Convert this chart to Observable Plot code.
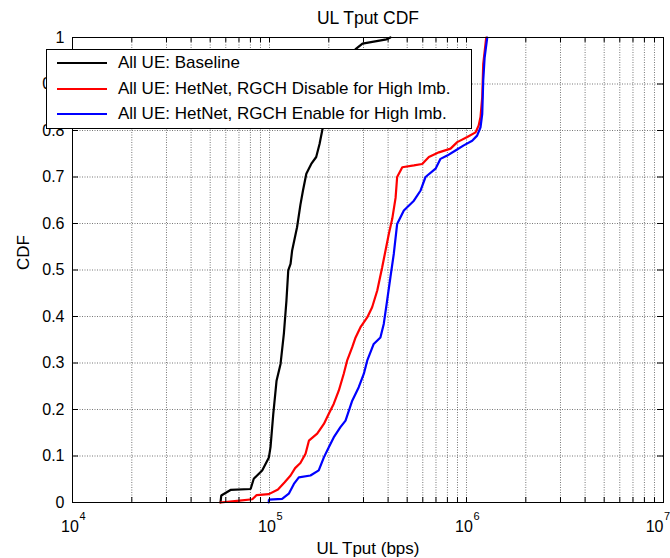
<!DOCTYPE html>
<html>
<head>
<meta charset="utf-8">
<script src="https://cdn.jsdelivr.net/npm/d3@7"></script>
<script src="https://cdn.jsdelivr.net/npm/@observablehq/plot@0.6"></script>
<style>
  body { margin: 0; background: #fff; font-family: "Liberation Sans", Arial, sans-serif; }
  #wrap { position: relative; width: 670px; height: 558px; }
  #legend { position: absolute; left: 46px; top: 49px; width: 424px; height: 78px;
            border: 1px solid #000; background: #fff; font-size: 17px; color: #000; }
  #legend .ln { position: absolute; left: 10px; width: 50px; height: 2px; }
  #legend .tx { position: absolute; left: 71px; height: 20px; line-height: 20px; white-space: nowrap; }
</style>
</head>
<body>
<div id="wrap"></div>
<script>
// ---- data ----
const seriesNames = [
  "All UE: Baseline",
  "All UE: HetNet, RGCH Disable for High Imb.",
  "All UE: HetNet, RGCH Enable for High Imb."
];
const seriesColors = ["#000000", "#ff0000", "#0000ff"];

const baselineX = [56400, 56900, 63400, 80200, 83200, 91800, 99300, 101200, 104500, 108600, 113800, 118300, 121900, 124500, 127900, 130300, 138000, 143500, 147900, 153800, 162900, 172600, 179500, 186600, 195000, 213800, 245500, 273500, 296500, 392600, 411000];
const baselineY = [0, 0.015, 0.027, 0.029, 0.051, 0.069, 0.097, 0.119, 0.19, 0.262, 0.298, 0.363, 0.434, 0.499, 0.513, 0.542, 0.592, 0.64, 0.671, 0.707, 0.728, 0.743, 0.771, 0.807, 0.85, 0.9, 0.95, 0.975, 0.987, 0.996, 1.0];

const disableX = [56200, 70500, 81800, 86100, 99300, 110400, 119100, 127900, 134900, 143500, 152400, 158500, 174600, 188800, 200000, 211800, 224900, 238200, 247700, 263000, 273500, 289700, 313300, 331900, 352400, 373300, 388100, 403600, 419800, 436500, 444600, 472100, 540800, 595700, 644200, 724400, 829900, 897500, 1009000, 1112000, 1153000, 1178000, 1202000, 1216000, 1259000];
const disableY = [0, 0.004, 0.007, 0.016, 0.018, 0.028, 0.043, 0.058, 0.074, 0.085, 0.105, 0.133, 0.148, 0.169, 0.191, 0.212, 0.241, 0.277, 0.305, 0.334, 0.355, 0.377, 0.398, 0.42, 0.456, 0.506, 0.542, 0.578, 0.61, 0.655, 0.70, 0.721, 0.725, 0.728, 0.743, 0.753, 0.761, 0.775, 0.786, 0.796, 0.811, 0.829, 0.872, 0.943, 1.0];

const enableX = [99100, 99300, 115900, 125300, 133000, 140900, 161400, 177800, 188800, 200000, 211800, 229100, 243200, 263000, 283800, 301300, 313300, 338100, 365600, 380200, 395400, 411100, 427600, 444600, 480800, 540800, 584800, 619400, 696600, 737900, 798000, 879000, 968300, 1069000, 1132000, 1178000, 1202000, 1216000, 1236000, 1274000];
const enableY = [0, 0.006, 0.008, 0.019, 0.04, 0.054, 0.058, 0.069, 0.097, 0.119, 0.14, 0.162, 0.176, 0.219, 0.248, 0.277, 0.305, 0.341, 0.355, 0.384, 0.434, 0.485, 0.535, 0.599, 0.628, 0.649, 0.671, 0.70, 0.718, 0.739, 0.746, 0.757, 0.768, 0.778, 0.789, 0.807, 0.836, 0.907, 0.957, 1.0];

const xMajorTicks = [1e4, 1e5, 1e6];
const xMajorLabels = ["4", "5", "6"];
const xLastTick = [1e7];
const xLastLabel = ["7"];
const xGridTicks = [1e4,2e4,3e4,4e4,5e4,6e4,7e4,8e4,9e4,
                    1e5,2e5,3e5,4e5,5e5,6e5,7e5,8e5,9e5,
                    1e6,2e6,3e6,4e6,5e6,6e6,7e6,8e6,9e6,1e7];
const yTicks = [0, 0.1, 0.2, 0.3, 0.4, 0.5, 0.6, 0.7, 0.8, 0.9, 1];
const titleText = "UL Tput CDF";
const xLabelText = "UL Tput (bps)";
const yLabelText = "CDF";

// ---- build table ----
const seriesX = [baselineX, disableX, enableX];
const seriesY = [baselineY, disableY, enableY];
const rows = [];
seriesNames.forEach((name, i) => {
  seriesX[i].forEach((x, j) => rows.push({series: name, x, y: seriesY[i][j]}));
});

const W = 670, H = 558, mt = 37, mb = 56, ml = 72, mr = 7;
const innerW = W - ml - mr, innerH = H - mt - mb;
const gridStyle = {stroke: "#555", strokeDasharray: "1,1.5", strokeWidth: 1, strokeOpacity: 0.8};

const chart = Plot.plot({
  width: W, height: H,
  marginTop: mt, marginBottom: mb, marginLeft: ml, marginRight: mr,
  style: {fontFamily: "'Liberation Sans', Arial, sans-serif", background: "#fff", color: "#000", overflow: "visible"},
  x: {type: "log", domain: [1e4, 1e7], axis: null},
  y: {domain: [0, 1]},
  color: {domain: seriesNames, range: seriesColors},
  marks: [
    Plot.ruleX(xGridTicks, {x: d => d, ...gridStyle}),
    Plot.ruleY(yTicks, {y: d => d, ...gridStyle}),
    Plot.line(rows, {x: "x", y: "y", z: "series", stroke: "series", strokeWidth: 2.2, strokeLinejoin: "miter"}),
    // inward ticks
    Plot.ruleX(xGridTicks, {x: d => d, insetTop: innerH - 5, stroke: "#000"}),
    Plot.ruleX(xGridTicks, {x: d => d, insetBottom: innerH - 5, stroke: "#000"}),
    Plot.ruleY(yTicks, {y: d => d, insetRight: innerW - 6, stroke: "#000"}),
    Plot.ruleY(yTicks, {y: d => d, insetLeft: innerW - 6, stroke: "#000"}),
    Plot.frame({stroke: "#000", strokeWidth: 1}),
    Plot.axisY(yTicks, {tickSize: 0, tickPadding: 8, fontSize: 16, label: null, tickFormat: d => String(d)}),
    // x tick labels 10^k
    Plot.text(xMajorTicks, {x: d => d, frameAnchor: "bottom", text: () => "10", textAnchor: "end", lineAnchor: "bottom", dx: 6.3, dy: 29, fontSize: 16, fill: "#000"}),
    Plot.text(xMajorTicks, {x: d => d, frameAnchor: "bottom", text: (d, i) => xMajorLabels[i], textAnchor: "start", lineAnchor: "bottom", dx: 7, dy: 17, fontSize: 11, fill: "#000"}),
    Plot.text(xLastTick, {x: d => d, frameAnchor: "bottom", text: () => "10", textAnchor: "end", lineAnchor: "bottom", dx: 0, dy: 29, fontSize: 16, fill: "#000"}),
    Plot.text(xLastTick, {x: d => d, frameAnchor: "bottom", text: (d, i) => xLastLabel[i], textAnchor: "start", lineAnchor: "bottom", dx: 0.5, dy: 17, fontSize: 11, fill: "#000"}),
    // title and axis labels
    Plot.text([titleText], {text: d => d, frameAnchor: "top", lineAnchor: "bottom", dy: -13.5, fontSize: 17.5, fill: "#000"}),
    Plot.text([xLabelText], {text: d => d, frameAnchor: "bottom", lineAnchor: "bottom", dy: 51, fontSize: 17, fill: "#000"}),
    Plot.text([yLabelText], {text: d => d, frameAnchor: "left", rotate: -90, lineAnchor: "bottom", dx: -44, fontSize: 17, fill: "#000"})
  ]
});

const wrap = document.getElementById("wrap");
wrap.appendChild(chart);

// legend overlay (upper left, as in the reference)
const legend = document.createElement("div");
legend.id = "legend";
const rowCenters = [13, 39, 64];
seriesNames.forEach((name, i) => {
  const ln = document.createElement("div");
  ln.className = "ln";
  ln.style.top = (rowCenters[i] - 1) + "px";
  ln.style.background = seriesColors[i];
  const tx = document.createElement("div");
  tx.className = "tx";
  tx.style.top = (rowCenters[i] - 10) + "px";
  tx.textContent = name;
  legend.appendChild(ln);
  legend.appendChild(tx);
});
wrap.appendChild(legend);
</script>
</body>
</html>
